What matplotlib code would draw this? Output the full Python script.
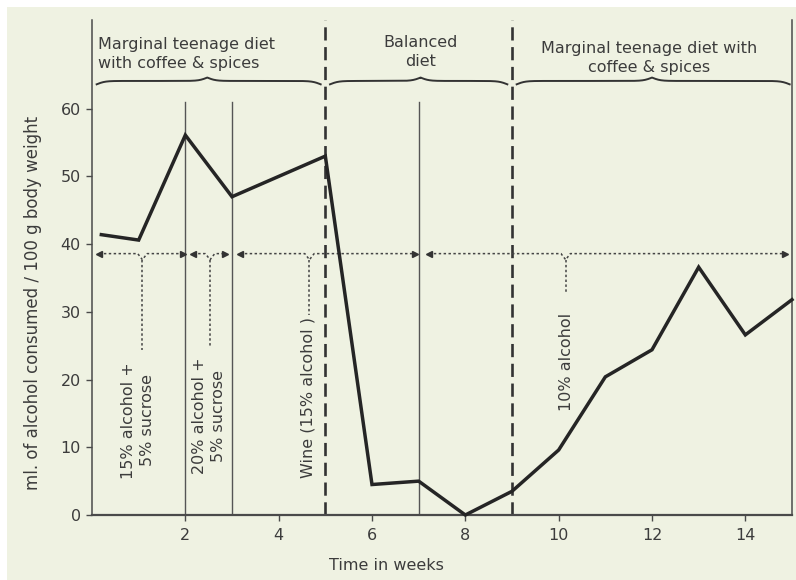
import numpy as np
import matplotlib
matplotlib.use("Agg")
import matplotlib.pyplot as plt
from matplotlib.patches import Rectangle

# ---------------- data ----------------
weeks = [0.2, 1.0, 2.0, 3.0, 5.0, 6.0, 7.0, 8.0, 9.0, 10.0, 11.0, 12.0, 13.0, 14.0, 15.0]
alcohol_ml = [41.4, 40.6, 56.1, 47.0, 53.0, 4.5, 5.0, 0.0, 3.5, 9.6, 20.4, 24.4, 36.6, 26.6, 31.8]

x_ticks = [2, 4, 6, 8, 10, 12, 14]
y_ticks = [0, 10, 20, 30, 40, 50, 60]

# phase boundaries (diet changes: dashed; solution changes: thin)
diet_bounds = [5, 9]
solution_bounds = [2, 3, 7]

diet_labels = ["Marginal teenage diet\nwith coffee & spices", "Balanced\ndiet",
               "Marginal teenage diet with\ncoffee & spices"]
diet_label_x = [0.13, 7.05, 11.94]
diet_label_y = [68.1, 68.4, 67.5]
diet_label_ha = ["left", "center", "center"]
brace_start = [0.1, 5.1, 9.1]
brace_end = [4.9, 8.9, 14.95]
brace_cusp = [2.47, 7.04, 12.0]

# treatment ranges (dotted double arrows)
range_start = [0.15, 2.17, 3.17, 7.22]
range_end = [1.94, 2.85, 6.93, 14.85]
range_drop_x = [1.08, 2.53, 4.66, 10.15]
range_drop_to = [24.4, 24.8, 29.5, 33.0]
range_y = 38.6

treat_labels = ["15% alcohol +\n5% sucrose", "20% alcohol +\n5% sucrose",
                "Wine (15% alcohol )", "10% alcohol"]
treat_x = [0.99, 2.51, 4.62, 10.17]
treat_y = [14.0, 14.6, 17.4, 22.6]

# ---------------- style ----------------
BG = "#eff2e2"
INK = "#252525"
TXT = "#3c3c3c"
FONT = "DejaVu Sans"
plt.rcParams["font.family"] = [FONT]

fig = plt.figure(figsize=(7.96, 5.80), dpi=100, facecolor=BG)
ax = fig.add_axes([92/796, 1-515/580, (792-92)/796, (515-20)/580])
ax.set_facecolor(BG)
ax.set_xlim(0, 15)
ax.set_ylim(0, 73.1)

ax.spines["top"].set_visible(False)
for s in ["left", "right"]:
    ax.spines[s].set_color("#4a4a4a")
    ax.spines[s].set_linewidth(1.1)
ax.spines["bottom"].set_color("#4a4a4a")
ax.spines["bottom"].set_linewidth(1.6)

ax.set_xticks(x_ticks)
ax.set_yticks(y_ticks)
ax.tick_params(axis="both", direction="out", length=4, width=1, color="#4a4a4a",
               labelcolor=TXT, labelsize=11.5)
ax.tick_params(axis="y", pad=4)
ax.tick_params(axis="x", pad=5)

# boundaries
for xb in solution_bounds:
    ax.plot([xb, xb], [0, 61], color="#555555", lw=1.0, zorder=2)
for xb in diet_bounds:
    ax.plot([xb, xb], [0, 73.1], color="#333333", lw=1.9, dashes=(5, 2.5), zorder=2,
            clip_on=False)

# braces and diet labels
def brace(x0, x1, xc, base, h, a=0.18):
    xs = []
    ys = []
    for xa, xb in [(x0, xc), (xc, x1)]:
        L = xb - xa
        t = np.linspace(0, L, 200)
        if xa == x0:
            y = h/2*np.tanh(t/a) + h/2*(1 + np.tanh((t - L)/a))
        else:
            y = h/2*np.tanh((L - t)/a) + h/2*(1 + np.tanh(-t/a))
        xs.append(xa + t)
        ys.append(base + y)
    return np.concatenate(xs), np.concatenate(ys)

for x0, x1, xc in zip(brace_start, brace_end, brace_cusp):
    bx, by = brace(x0, x1, xc, 63.6, 1.0)
    ax.plot(bx, by, color="#333333", lw=1.4, zorder=3)

for lab, lx, ly, ha in zip(diet_labels, diet_label_x, diet_label_y, diet_label_ha):
    ax.text(lx, ly, lab, ha=ha, va="center", multialignment=ha, fontsize=11.5,
            color=TXT, linespacing=1.3)

# treatment range arrows
DOT = dict(color="#444444", lw=1.1, dashes=(1.6, 1.6))
for x0, x1, xd, yb in zip(range_start, range_end, range_drop_x, range_drop_to):
    px = [x0, xd - 0.1, xd, xd + 0.1, x1]
    py = [range_y, range_y, range_y - 0.9, range_y, range_y]
    ax.plot(px, py, zorder=3, **DOT)
    ax.plot([xd, xd], [range_y - 0.9, yb], zorder=3, **DOT)
    ax.plot([x0], [range_y], marker="<", ms=5, color="#333333", zorder=4)
    ax.plot([x1], [range_y], marker=">", ms=5, color="#333333", zorder=4)

for lab, tx, ty in zip(treat_labels, treat_x, treat_y):
    ax.text(tx, ty, lab, rotation=90, ha="center", va="center", multialignment="center",
            fontsize=11.5, color=TXT, linespacing=1.3)

# main data line
ax.plot(weeks, alcohol_ml, color=INK, lw=2.5, solid_joinstyle="miter", zorder=5,
        clip_on=False)

# axis labels
fig.text(33/796, 1-303/580, "ml. of alcohol consumed / 100 g body weight", rotation=90,
         ha="center", va="center", fontsize=12, color=TXT)
fig.text(386/796, 1-565/580, "Time in weeks", ha="center", va="center",
         fontsize=11.5, color=TXT)

# scan border
fig.patches.append(Rectangle((0, 1-7/580), 1, 7/580, transform=fig.transFigure,
                             facecolor="white", edgecolor="none", zorder=10))
fig.patches.append(Rectangle((0, 0), 7/796, 1, transform=fig.transFigure,
                             facecolor="white", edgecolor="none", zorder=10))

fig.savefig("out.png", dpi=100, facecolor=BG)
